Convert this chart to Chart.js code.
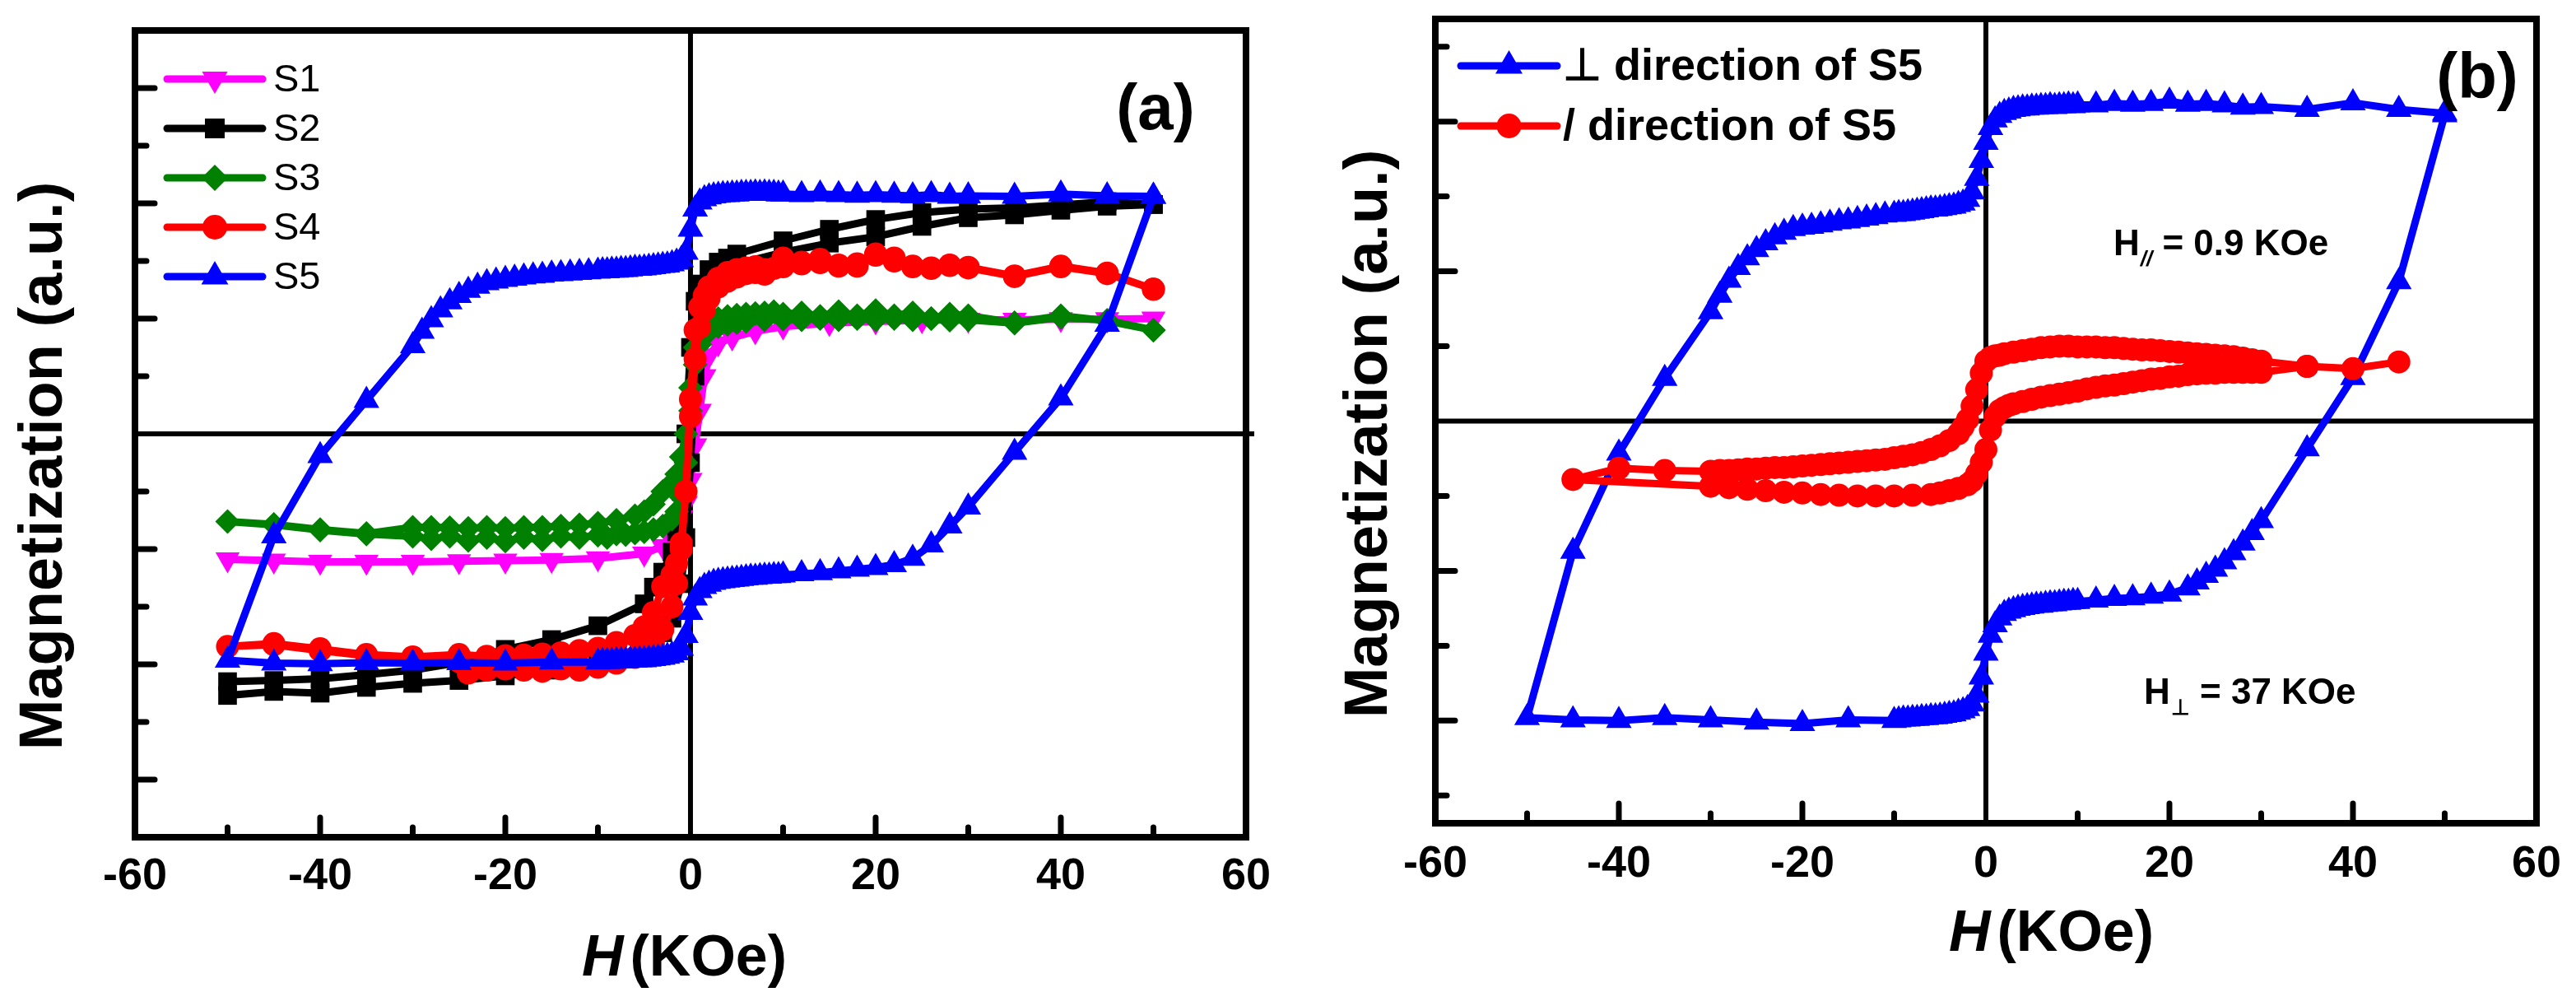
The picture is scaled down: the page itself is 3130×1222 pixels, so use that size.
<!DOCTYPE html>
<html>
<head>
<meta charset="utf-8">
<script src="https://cdn.jsdelivr.net/npm/chart.js@4.4.0/dist/chart.umd.min.js"></script>
<style>
  html, body { margin: 0; padding: 0; background: #fff; }
  #wrap { display: flex; width: 3130px; height: 1222px; }
  canvas { display: block; }
</style>
</head>
<body>
<div id="wrap">
  <canvas id="chartA" width="1560" height="1222" style="width:1560px;height:1222px"></canvas>
  <canvas id="chartB" width="1570" height="1222" style="width:1570px;height:1222px"></canvas>
</div>
<script>
// ---- data: [H (KOe), M (a.u.)] ----
const aS1 = [[-50,-2.18],[-45,-2.2],[-40,-2.22],[-35,-2.22],[-30,-2.22],[-25,-2.21],[-20,-2.2],[-15,-2.19],[-10,-2.16],[-5,-2.08],[-3,-1.95],[-2,-1.85],[-1.5,-1.72],[-1,-1.45],[-0.5,-1.2],[0,-0.8],[0.5,-0.2],[1,0.4],[1.5,1.0],[2,1.36],[3,1.57],[4.5,1.67],[7,1.78],[10,1.86],[15,1.92],[20,1.95],[25,1.97],[30,1.98],[35,1.98],[40,1.99],[45,1.99],[50,2.0]];

const aS2 = [[50,3.98],[45,4.03],[40,3.97],[35,3.92],[30,3.9],[25,3.84],[20,3.72],[15,3.55],[10,3.35],[5,3.12],[4,3.05],[3,2.98],[2,2.85],[1,2.6],[0.5,2.3],[0,1.5],[-0.5,0.0],[-1,-1.0],[-1.5,-1.7],[-2,-2.05],[-3,-2.4],[-4,-2.66],[-5,-2.95],[-10,-3.33],[-15,-3.57],[-20,-3.74],[-25,-3.97],[-30,-4.1],[-35,-4.18],[-40,-4.25],[-45,-4.28],[-50,-4.3],
  [-50,-4.54],[-45,-4.47],[-40,-4.5],[-35,-4.4],[-30,-4.33],[-25,-4.28],[-20,-4.2],[-15,-4.1],[-10,-3.95],[-5,-3.7],[-4,-3.6],[-3,-3.45],[-2,-3.2],[-1,-2.6],[-0.5,-1.8],[0,-0.5],[0.5,1.0],[1,1.9],[2,2.45],[3,2.7],[4,2.85],[5,2.95],[10,3.15],[15,3.31],[20,3.42],[25,3.6],[30,3.75],[35,3.8],[40,3.88],[45,3.95],[50,3.98]];

const aS3 = [[50,1.8],[45,1.96],[40,2.05],[35,1.93],[30,2.05],[28,2.08],[26,2.0],[24,2.1],[22,2.05],[20,2.14],[18,2.05],[16,2.12],[14,2.04],[12,2.1],[10,2.08],[9,2.12],[8,2.1],[7,2.09],[6,2.08],[5,2.06],[4,2.04],[3,2.0],[2,1.92],[1.5,1.85],[1,1.75],[0.5,1.5],[0,0.8],[-0.5,0.0],[-1,-0.4],[-1.5,-0.7],[-2,-0.85],[-3,-1.0],[-4,-1.22],[-5,-1.35],[-6,-1.42],[-8,-1.5],[-10,-1.55],[-12,-1.58],[-14,-1.6],[-16,-1.62],[-18,-1.62],[-20,-1.64],[-22,-1.62],[-24,-1.64],[-26,-1.63],[-28,-1.62],[-30,-1.62],[-35,-1.73],[-40,-1.66],[-45,-1.57],[-50,-1.52],
  [-45,-1.58],[-40,-1.67],[-35,-1.74],[-30,-1.78],[-28,-1.82],[-26,-1.78],[-24,-1.85],[-22,-1.8],[-20,-1.86],[-18,-1.8],[-16,-1.84],[-14,-1.78],[-12,-1.8],[-10,-1.76],[-9,-1.8],[-8,-1.74],[-7,-1.75],[-6,-1.72],[-5,-1.7],[-4,-1.66],[-3,-1.6],[-2,-1.48],[-1.5,-1.35],[-1,-1.1],[-0.5,-0.5],[0,0.4],[0.5,1.2],[1,1.55],[1.5,1.7],[2,1.78],[3,1.86],[4,1.9],[5,1.93],[6,1.95],[8,1.98],[10,1.99],[12,1.98],[14,2.0],[16,1.98],[18,2.0],[20,1.98],[22,2.0],[24,1.98],[26,2.0],[28,1.97],[30,1.98],[35,1.92],[40,2.02],[45,1.97],[50,1.8]];

const aS4 = [[50,2.51],[45,2.79],[40,2.91],[35,2.74],[30,2.89],[28,2.93],[26,2.87],[24,2.91],[22,3.05],[20,3.1],[18,2.91],[16,2.91],[14,3.03],[12,2.98],[10,3.05],[8,2.77],[7,2.9],[6,2.88],[5,2.85],[4,2.8],[3,2.7],[2,2.55],[1.5,2.4],[1,2.2],[0.5,1.8],[0,0.6],[-0.5,-1.0],[-1,-1.9],[-1.5,-2.25],[-2,-2.45],[-3,-2.65],[-4,-3.1],[-5,-3.35],[-6,-3.5],[-8,-3.62],[-10,-3.72],[-12,-3.76],[-14,-3.8],[-16,-3.82],[-18,-3.84],[-20,-3.85],[-22,-3.86],[-25,-3.83],[-30,-3.87],[-35,-3.83],[-40,-3.73],[-45,-3.64],[-50,-3.69],
  [-45,-3.66],[-40,-3.76],[-35,-3.85],[-30,-3.9],[-25,-3.95],[-24,-4.15],[-22,-4.1],[-20,-4.08],[-18,-4.1],[-16,-4.12],[-14,-4.08],[-12,-4.1],[-10,-4.05],[-8,-3.98],[-6,-3.88],[-5,-3.8],[-4,-3.65],[-3,-3.4],[-2,-3.0],[-1.5,-2.6],[-1,-2.0],[-0.5,-1.0],[0,0.3],[0.5,1.3],[1,1.85],[1.5,2.15],[2,2.35],[3,2.55],[4,2.65],[5,2.72],[6,2.78],[7,2.8],[8,2.85],[9,2.87],[10,2.9],[12,2.95],[14,2.97],[16,2.93],[18,2.95],[20,3.12],[22,3.0],[24,2.9],[26,2.88],[28,2.92],[30,2.88],[35,2.73],[40,2.9],[45,2.78],[50,2.51]];

const aS5 = [[50,4.12],[45,4.13],[40,4.16],[35,4.12],[30,4.13],[28,4.12],[26,4.15],[24,4.13],[22,4.14],[20,4.15],[18,4.14],[16,4.15],[14,4.16],[12,4.15],[10,4.16],[9.5,4.16],[9,4.17],[8.5,4.17],[8,4.18],[7.5,4.17],[7,4.18],[6.5,4.17],[6,4.17],[5.5,4.17],[5,4.16],[4.5,4.16],[4,4.15],[3.5,4.15],[3,4.14],[2.5,4.13],[2,4.11],[1.5,4.08],[1,4.02],[0.5,3.9],[0,3.55],[-0.5,3.15],[-1,3.02],[-1.5,2.98],[-2,2.95],[-2.5,2.93],[-3,2.92],[-3.5,2.91],[-4,2.9],[-4.5,2.89],[-5,2.88],[-5.5,2.87],[-6,2.87],[-6.5,2.86],[-7,2.85],[-7.5,2.85],[-8,2.84],[-8.5,2.84],[-9,2.83],[-9.5,2.83],[-10,2.82],[-11,2.81],[-12,2.8],[-13,2.79],[-14,2.78],[-15,2.77],[-16,2.75],[-17,2.74],[-18,2.72],[-19,2.7],[-20,2.68],[-21,2.65],[-22,2.62],[-23,2.56],[-24,2.49],[-25,2.4],[-26,2.29],[-27,2.15],[-28,1.98],[-29,1.78],[-30,1.53],[-35,0.58],[-40,-0.38],[-45,-1.77],[-50,-3.93],
  [-45,-3.98],[-40,-3.99],[-35,-3.97],[-30,-3.98],[-25,-3.97],[-20,-3.98],[-15,-3.96],[-10,-3.96],[-9.5,-3.95],[-9,-3.95],[-8.5,-3.95],[-8,-3.94],[-7.5,-3.94],[-7,-3.94],[-6.5,-3.93],[-6,-3.93],[-5.5,-3.92],[-5,-3.92],[-4.5,-3.91],[-4,-3.9],[-3.5,-3.89],[-3,-3.88],[-2.5,-3.86],[-2,-3.84],[-1.5,-3.8],[-1,-3.72],[-0.5,-3.5],[0,-3.1],[0.5,-2.85],[1,-2.72],[1.5,-2.65],[2,-2.61],[2.5,-2.58],[3,-2.56],[3.5,-2.55],[4,-2.54],[4.5,-2.53],[5,-2.52],[5.5,-2.51],[6,-2.5],[6.5,-2.49],[7,-2.49],[7.5,-2.48],[8,-2.47],[8.5,-2.47],[9,-2.46],[9.5,-2.46],[10,-2.45],[12,-2.43],[14,-2.41],[16,-2.38],[18,-2.35],[20,-2.32],[22,-2.27],[24,-2.16],[26,-1.93],[28,-1.6],[30,-1.27],[35,-0.32],[40,0.62],[45,1.9],[50,4.12]];

const bPerp = [[50,4.11],[45,4.16],[40,4.25],[35,4.16],[30,4.2],[28,4.19],[26,4.22],[24,4.24],[22,4.23],[20,4.27],[18,4.24],[16,4.23],[14,4.24],[12,4.22],[10,4.22],[9.5,4.21],[9,4.22],[8.5,4.21],[8,4.21],[7.5,4.2],[7,4.21],[6.5,4.2],[6,4.2],[5.5,4.19],[5,4.19],[4.5,4.18],[4,4.18],[3.5,4.17],[3,4.16],[2.5,4.14],[2,4.12],[1.5,4.08],[1,4.02],[0.5,3.92],[0,3.72],[-0.5,3.48],[-1,3.24],[-1.5,3.06],[-2,2.96],[-2.5,2.91],[-3,2.89],[-3.5,2.87],[-4,2.86],[-4.5,2.85],[-5,2.84],[-5.5,2.83],[-6,2.83],[-6.5,2.82],[-7,2.81],[-7.5,2.8],[-8,2.79],[-8.5,2.78],[-9,2.77],[-9.5,2.77],[-10,2.76],[-11,2.75],[-12,2.73],[-13,2.71],[-14,2.69],[-15,2.67],[-16,2.66],[-17,2.64],[-18,2.62],[-19,2.6],[-20,2.59],[-21,2.57],[-22,2.52],[-23,2.46],[-24,2.38],[-25,2.29],[-26,2.18],[-27,2.05],[-28,1.88],[-29,1.68],[-30,1.46],[-35,0.57],[-40,-0.43],[-45,-1.74],[-50,-3.96],
  [-45,-3.99],[-40,-4.0],[-35,-3.96],[-30,-3.99],[-25,-4.02],[-20,-4.04],[-15,-3.99],[-10,-4.0],[-9.5,-3.99],[-9,-3.98],[-8.5,-3.98],[-8,-3.97],[-7.5,-3.97],[-7,-3.96],[-6.5,-3.96],[-6,-3.95],[-5.5,-3.95],[-5,-3.94],[-4.5,-3.93],[-4,-3.92],[-3.5,-3.91],[-3,-3.89],[-2.5,-3.87],[-2,-3.84],[-1.5,-3.78],[-1,-3.66],[-0.5,-3.42],[0,-3.1],[0.5,-2.86],[1,-2.72],[1.5,-2.63],[2,-2.57],[2.5,-2.54],[3,-2.52],[3.5,-2.5],[4,-2.49],[4.5,-2.48],[5,-2.47],[5.5,-2.46],[6,-2.46],[6.5,-2.45],[7,-2.44],[7.5,-2.44],[8,-2.43],[8.5,-2.42],[9,-2.42],[9.5,-2.41],[10,-2.41],[12,-2.39],[14,-2.37],[16,-2.36],[18,-2.34],[20,-2.31],[22,-2.23],[23,-2.15],[24,-2.06],[25,-1.98],[26,-1.88],[27,-1.76],[28,-1.63],[29,-1.49],[30,-1.33],[35,-0.37],[40,0.58],[45,1.86],[50,4.09]];

const bPara = [[45,0.79],[40,0.7],[35,0.73],[30,0.8],[29,0.82],[28,0.84],[27,0.86],[26,0.87],[25,0.88],[24,0.89],[23,0.9],[22,0.91],[21,0.92],[20,0.93],[19,0.94],[18,0.95],[17,0.95],[16,0.96],[15,0.97],[14,0.98],[13,0.98],[12,0.99],[11,0.99],[10,0.99],[9,1.0],[8,1.0],[7,0.99],[6,0.98],[5,0.96],[4,0.94],[3,0.92],[2,0.9],[1.5,0.88],[1,0.87],[0.5,0.85],[0,0.8],[-0.5,0.64],[-1,0.42],[-1.5,0.2],[-2,0.02],[-2.5,-0.08],[-3,-0.17],[-4,-0.26],[-5,-0.33],[-6,-0.38],[-7,-0.42],[-8,-0.45],[-9,-0.47],[-10,-0.49],[-11,-0.51],[-12,-0.52],[-13,-0.53],[-14,-0.54],[-15,-0.55],[-16,-0.56],[-17,-0.57],[-18,-0.58],[-19,-0.59],[-20,-0.6],[-21,-0.61],[-22,-0.62],[-23,-0.62],[-24,-0.63],[-25,-0.64],[-26,-0.64],[-27,-0.65],[-28,-0.66],[-29,-0.66],[-30,-0.67],[-35,-0.66],[-40,-0.63],[-45,-0.78],
  [-30,-0.87],[-28,-0.89],[-26,-0.91],[-24,-0.93],[-22,-0.95],[-20,-0.96],[-18,-0.98],[-16,-0.99],[-14,-1.0],[-12,-1.0],[-10,-1.0],[-8,-0.99],[-6,-0.98],[-5,-0.96],[-4,-0.93],[-3,-0.9],[-2,-0.85],[-1.5,-0.8],[-1,-0.7],[-0.5,-0.55],[0,-0.38],[0.5,-0.12],[1,0.06],[1.5,0.14],[2,0.18],[2.5,0.21],[3,0.23],[4,0.26],[5,0.29],[6,0.32],[7,0.34],[8,0.36],[9,0.38],[10,0.4],[11,0.43],[12,0.45],[13,0.47],[14,0.48],[15,0.5],[16,0.52],[17,0.54],[18,0.56],[19,0.57],[20,0.59],[21,0.6],[22,0.62],[23,0.63],[24,0.64],[25,0.64],[26,0.65],[27,0.65],[28,0.65],[29,0.65],[30,0.65],[35,0.73]];

const aLabels = ['S1', 'S2', 'S3', 'S4', 'S5'];
const bLabels = ['\u22A5 direction of S5', '/ direction of S5'];

// tick values
const xLabelTicks = [-60, -40, -20, 0, 20, 40, 60];
const xMajorTicks = [-40, -20, 20, 40];
const xMinorTicks = [-50, -30, -10, 10, 30, 50];
const aYMajorTicks = [-6, -4, -2, 2, 4, 6];
const aYMinorTicks = [-5, -3, -1, 1, 3, 5];
const bYMajorTicks = [-4, -2, 2, 4];
const bYMinorTicks = [-5, -3, -1, 1, 3, 5];

const FONT = '"Liberation Sans", Arial, Helvetica, sans-serif';
Chart.defaults.font.family = FONT;

const toXY = pts => pts.map(p => ({ x: p[0], y: p[1] }));

function series(label, pts, color, style, radius, rotation, order) {
  return {
    label: label,
    data: toXY(pts),
    showLine: true,
    tension: 0,
    borderColor: color,
    backgroundColor: color,
    borderWidth: 9,
    borderJoinStyle: 'round',
    borderCapStyle: 'round',
    pointStyle: style,
    pointRotation: rotation,
    pointRadius: radius,
    pointHoverRadius: radius,
    pointBackgroundColor: color,
    pointBorderColor: color,
    pointBorderWidth: 0,
    order: order
  };
}

// frame, inward ticks, zero lines, legend and labels
function decor(o) {
  return {
    id: 'decor',
    beforeDatasetsDraw(chart) {
      const ctx = chart.ctx, a = chart.chartArea;
      const x0 = chart.scales.x.getPixelForValue(0);
      const y0 = chart.scales.y.getPixelForValue(0);
      ctx.save();
      ctx.strokeStyle = '#000';
      ctx.lineWidth = 6;
      ctx.beginPath();
      ctx.moveTo(x0, a.top);
      ctx.lineTo(x0, a.bottom);
      ctx.moveTo(a.left, y0);
      ctx.lineTo(a.right + o.zeroOver, y0);
      ctx.stroke();
      ctx.restore();
    },
    afterDraw(chart) {
      const ctx = chart.ctx, a = chart.chartArea;
      const xs = chart.scales.x, ys = chart.scales.y;
      ctx.save();
      ctx.strokeStyle = '#000';
      ctx.fillStyle = '#000';

      // ticks
      ctx.lineWidth = 7;
      ctx.lineCap = 'round';
      ctx.beginPath();
      xMajorTicks.forEach(v => { const p = xs.getPixelForValue(v); ctx.moveTo(p, a.bottom); ctx.lineTo(p, a.bottom - 24); });
      xMinorTicks.forEach(v => { const p = xs.getPixelForValue(v); ctx.moveTo(p, a.bottom); ctx.lineTo(p, a.bottom - 12); });
      o.yMajor.forEach(v => { const p = ys.getPixelForValue(v); ctx.moveTo(a.left, p); ctx.lineTo(a.left + 24, p); });
      o.yMinor.forEach(v => { const p = ys.getPixelForValue(v); ctx.moveTo(a.left, p); ctx.lineTo(a.left + 14, p); });
      ctx.stroke();

      // frame
      ctx.lineCap = 'butt';
      ctx.lineJoin = 'miter';
      ctx.lineWidth = 8;
      ctx.strokeRect(a.left, a.top, a.right - a.left, a.bottom - a.top);

      // legend
      const lg = o.legend;
      chart.data.datasets.forEach((ds, i) => {
        const yy = lg.y + i * lg.dy;
        ctx.strokeStyle = ds.borderColor;
        ctx.fillStyle = ds.borderColor;
        ctx.lineWidth = 9;
        ctx.lineCap = 'round';
        ctx.beginPath();
        ctx.moveTo(lg.x1, yy);
        ctx.lineTo(lg.x2, yy);
        ctx.stroke();
        Chart.helpers.drawPoint(ctx, {
          pointStyle: ds.pointStyle, rotation: ds.pointRotation,
          radius: ds.pointRadius + 1, borderWidth: 0
        }, (lg.x1 + lg.x2) / 2, yy);
        ctx.fillStyle = '#000';
        ctx.font = lg.font;
        ctx.textAlign = 'left';
        ctx.textBaseline = 'middle';
        ctx.fillText(ds.label, lg.tx, yy + 2);
      });

      // y title
      ctx.fillStyle = '#000';
      ctx.save();
      ctx.translate(o.yTitle.x, o.yTitle.y);
      ctx.rotate(-Math.PI / 2);
      ctx.font = 'bold 74px ' + FONT;
      ctx.textAlign = 'center';
      ctx.textBaseline = 'alphabetic';
      ctx.fillText('Magnetization (a.u.)', 0, 0);
      ctx.restore();

      // x title: italic H + (KOe)
      ctx.textAlign = 'left';
      ctx.textBaseline = 'alphabetic';
      ctx.font = 'italic bold 70px ' + FONT;
      ctx.fillText('H', o.xTitle.x, o.xTitle.y);
      const hw = ctx.measureText('H').width;
      ctx.font = 'bold 70px ' + FONT;
      ctx.fillText('(KOe)', o.xTitle.x + hw + 8, o.xTitle.y);

      // panel tag
      ctx.font = 'bold 78px ' + FONT;
      ctx.textAlign = 'center';
      ctx.textBaseline = 'middle';
      ctx.fillText(o.tag.text, o.tag.x, o.tag.y);

      // extra annotations with a subscript
      (o.notes || []).forEach(n => {
        ctx.textAlign = 'left';
        ctx.textBaseline = 'alphabetic';
        ctx.font = 'bold 44px ' + FONT;
        ctx.fillText('H', n.x, n.y);
        let cx = n.x + ctx.measureText('H').width + 1;
        ctx.font = n.subFont;
        ctx.fillText(n.sub, cx, n.y + 13);
        cx += ctx.measureText(n.sub).width;
        ctx.font = 'bold 44px ' + FONT;
        ctx.fillText(n.rest, cx, n.y);
      });
      ctx.restore();
    }
  };
}

function xAxis(height, pad) {
  return {
    type: 'linear', min: -60, max: 60,
    afterFit(s) { s.height = height; },
    grid: { display: false, drawTicks: false },
    border: { display: false },
    ticks: {
      stepSize: 20, autoSkip: false, maxRotation: 0, padding: pad,
      color: '#000', font: { family: FONT, size: 54, weight: 'bold' },
      callback: v => (xLabelTicks.includes(v) ? String(v) : '')
    }
  };
}

const baseOpts = {
  responsive: false,
  devicePixelRatio: 1,
  animation: false,
  events: [],
  plugins: { legend: { display: false }, tooltip: { enabled: false } }
};

new Chart(document.getElementById('chartA'), {
  type: 'scatter',
  data: {
    datasets: [
      series(aLabels[0], aS1, '#ff00ff', 'triangle', 17, 180, 5),
      series(aLabels[1], aS2, '#000000', 'rect', 16, 0, 4),
      series(aLabels[2], aS3, '#008000', 'rectRot', 15, 0, 3),
      series(aLabels[3], aS4, '#ff0000', 'circle', 14, 0, 2),
      series(aLabels[4], aS5, '#0000ff', 'triangle', 18, 0, 1)
    ]
  },
  options: Object.assign({}, baseOpts, {
    layout: { padding: { left: 164, top: 37, right: 46, bottom: 0 }, autoPadding: false },
    scales: {
      x: xAxis(205, 16),
      y: { type: 'linear', min: -7, max: 7, display: false }
    }
  }),
  plugins: [decor({
    zeroOver: 10,
    yMajor: aYMajorTicks, yMinor: aYMinorTicks,
    legend: { x1: 203, x2: 319, tx: 332, y: 96, dy: 60, font: '47px ' + FONT },
    yTitle: { x: 75, y: 566 },
    xTitle: { x: 707, y: 1185 },
    tag: { text: '(a)', x: 1404, y: 135 }
  })]
});

new Chart(document.getElementById('chartB'), {
  type: 'scatter',
  data: {
    datasets: [
      series(bLabels[0], bPerp, '#0000ff', 'triangle', 18, 0, 2),
      series(bLabels[1], bPara, '#ff0000', 'circle', 14, 0, 1)
    ]
  },
  options: Object.assign({}, baseOpts, {
    layout: { padding: { left: 184, top: 23, right: 47, bottom: 0 }, autoPadding: false },
    scales: {
      x: xAxis(222, 18),
      y: { type: 'linear', min: -5.37, max: 5.37, display: false }
    }
  }),
  plugins: [decor({
    zeroOver: 0,
    yMajor: bYMajorTicks, yMinor: bYMinorTicks,
    legend: { x1: 215, x2: 332, tx: 339, y: 80, dy: 73, font: 'bold 54px ' + FONT },
    yTitle: { x: 125, y: 527 },
    xTitle: { x: 808, y: 1155 },
    tag: { text: '(b)', x: 1450, y: 97 },
    notes: [
      { x: 1008, y: 310, sub: '//', subFont: 'italic bold 26px ' + FONT, rest: ' = 0.9 KOe' },
      { x: 1045, y: 855, sub: '\u22A5', subFont: 'bold 26px ' + FONT, rest: ' = 37 KOe' }
    ]
  })]
});
</script>
</body>
</html>
